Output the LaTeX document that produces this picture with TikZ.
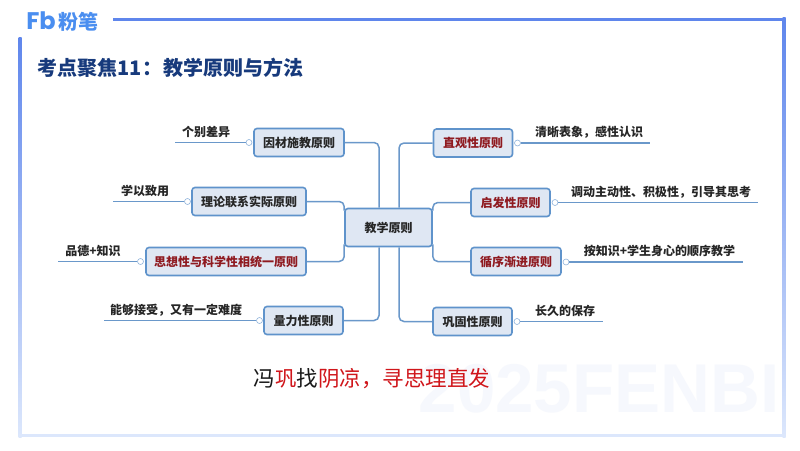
\documentclass[tikz,border=0pt]{standalone}
\usepackage{fontspec}
\setmainfont{Noto Sans CJK SC}
\newfontfamily\latinbold{Poppins}
\newfontfamily\wmfont{Liberation Sans}
\usetikzlibrary{calc}
\definecolor{framehi}{HTML}{5F86EC}
\definecolor{framelo}{HTML}{DCE7FC}
\definecolor{boxfill}{HTML}{DFE7F3}
\definecolor{boxline}{HTML}{5F93CB}
\definecolor{linkc}{HTML}{6A98CA}
\definecolor{dred}{HTML}{8F1A20}
\definecolor{bred}{HTML}{D0161B}
\definecolor{navy}{HTML}{173A7C}
\definecolor{logoc}{HTML}{4A8EF0}
\definecolor{wmark}{HTML}{F6F8FD}
\tikzset{
  x=1pt,y=-1pt,
  box/.style={draw=boxline,line width=1.6pt,fill=boxfill,rounded corners=3pt,inner sep=0pt,
    minimum height=28pt,font=\fontsize{12}{14}\selectfont\bfseries,text=black!85},
  redbox/.style={box,text=dred},
  link/.style={draw=linkc,line width=1.5pt,rounded corners=5pt},
  leaf/.style={draw=linkc,line width=1.5pt},
  knob/.style={circle,draw=boxline!70,fill=white,line width=.6pt,minimum size=6pt,inner sep=0pt},
  lab/.style={inner sep=0pt,font=\fontsize{12}{14}\selectfont\bfseries,text=black!85},
}
\begin{document}
\begin{tikzpicture}
\useasboundingbox (0,0) rectangle (800,450);
\fill[white] (0,0) rectangle (800,450);
% watermark
\node[inner sep=0pt,font=\fontsize{69}{69}\wmfont\bfseries,text=wmark] (wm) at (599,389) {2025FENBI};
% frame
\fill[framehi] (113,17.5) rectangle (785.5,20.5);
\shade[top color=framehi,bottom color=framelo] (782.5,17.5) rectangle (785.5,437);
\shade[top color=framehi,bottom color=framelo] (18.5,37) rectangle (21.5,437);
\fill[framelo] (18.5,433.5) rectangle (785.5,437);
% logo
\node[inner sep=0pt,font=\fontsize{24}{24}\latinbold\bfseries,text=logoc] (logo) at (41,21) {Fb};
\node[inner sep=0pt,font=\fontsize{20}{20}\selectfont\bfseries,text=logoc] (brand) at (78,22) {粉笔};
% title
\node[anchor=west,inner sep=0pt,font=\fontsize{20}{24}\selectfont\bfseries,text=navy] (title) at (37,68) {考点聚焦11\kern1pt：\kern1pt 教学原则与方法};
% nodes
\node[box,minimum width=87pt,minimum height=38pt] (root) at (388.5,227.5) {教学原则};
\node[box,minimum width=90pt] (a1) at (299,142.5) {因材施教原则};
\node[box,minimum width=114pt] (a2) at (249,201.5) {理论联系实际原则};
\node[redbox,minimum width=160pt] (a3) at (226,261.5) {思想性与科学性相统一原则};
\node[box,minimum width=79pt] (a4) at (303.5,320.5) {量力性原则};
\node[redbox,minimum width=79pt] (b1) at (473,143) {直观性原则};
\node[redbox,minimum width=79pt] (b2) at (510.5,202.5) {启发性原则};
\node[redbox,minimum width=90pt] (b3) at (516,261.5) {循序渐进原则};
\node[box,minimum width=79pt] (b4) at (472.5,321.5) {巩固性原则};
% trunk connectors
\draw[link] (a1.east) -| ($(root.north)+(-9.5,0)$);
\draw[link] (a4.east) -| ($(root.south)+(-9.5,0)$);
\draw[link] (b1.west) -| ($(root.north)+(10.5,0)$);
\draw[link] (b4.west) -| ($(root.south)+(10.5,0)$);
\draw[link] (a2.east) -| ($(root.north west)+(0,3)$);
\draw[link] (a3.east) -| ($(root.south west)+(0,-3)$);
\draw[link] (b2.west) -| ($(root.north east)+(0,3)$);
\draw[link] (b3.west) -| ($(root.south east)+(0,-3)$);
% leaves
\node[knob] (ka1) at (249,142.5) {};
\node[knob] (ka2) at (187.5,201.5) {};
\node[knob] (ka3) at (140.5,261.5) {};
\node[knob] (ka4) at (259.5,320.5) {};
\node[knob] (kb1) at (517.5,143) {};
\node[knob] (kb2) at (555,202.5) {};
\node[knob] (kb3) at (566,262) {};
\node[knob] (kb4) at (517,321.5) {};
\coordinate (ea1) at (175,142.5);
\coordinate (ea2) at (113,201.5);
\coordinate (ea3) at (58,261.5);
\coordinate (ea4) at (104,320.5);
\coordinate (eb1) at (650,143);
\coordinate (eb2) at (758,202.5);
\coordinate (eb3) at (743,262);
\coordinate (eb4) at (603,321.5);
\foreach \k/\e in {ka1/ea1,ka2/ea2,ka3/ea3,ka4/ea4,kb1/eb1,kb2/eb2,kb3/eb3,kb4/eb4}{\draw[leaf] (\k) -- (\e);}
\node[lab] (la1) at (206,132) {个别差异};
\node[lab] (la2) at (145,191) {学以致用};
\node[lab] (la3) at (93,251) {品德+知识};
\node[lab] (la4) at (176,310) {能够接受，又有一定难度};
\node[lab] (lb1) at (589,132) {清晰表象，感性认识};
\node[lab] (lb2) at (661,192) {调动主动性、积极性，引导其思考};
\node[lab] (lb3) at (659.5,251) {按知识+学生身心的顺序教学};
\node[lab] (lb4) at (565,311) {长久的保存};
% mnemonic
\node[inner sep=0pt,font=\fontsize{21.5}{26}\selectfont,text=black!90] (mn) at (372,379) {冯\textcolor{bred}{巩}找\textcolor{bred}{阴凉，寻思理直发}};
\end{tikzpicture}
\end{document}
